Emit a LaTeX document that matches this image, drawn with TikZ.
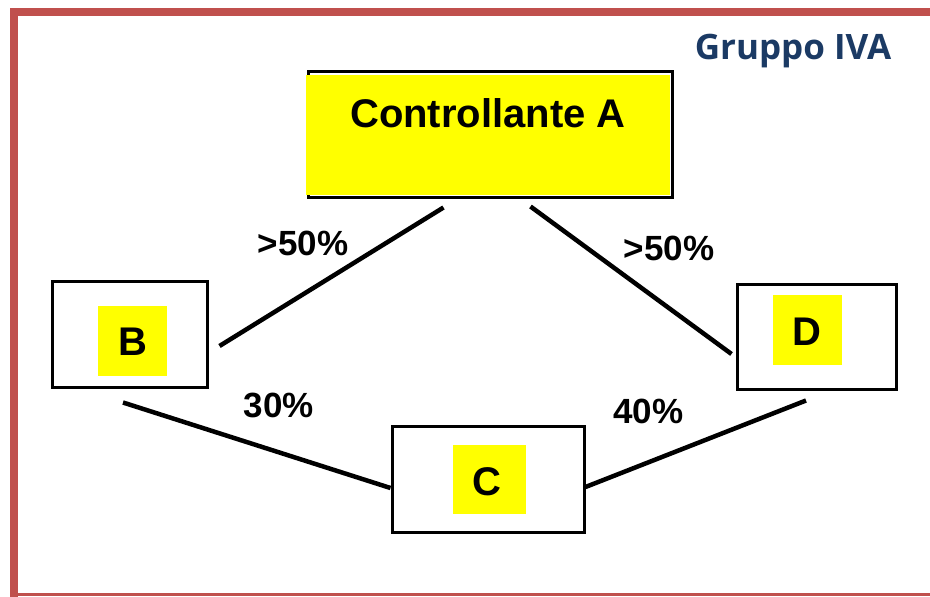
\documentclass[tikz,border=0pt]{standalone}
\usepackage{fontspec}
\setmainfont{Liberation Sans}
\newfontfamily\titlefont{Open Sans}
\definecolor{frame}{HTML}{C0504D}
\definecolor{navy}{HTML}{1B3A64}
\definecolor{yel}{HTML}{FFFF00}
\tikzset{
  entity/.style={draw=black, line width=3pt, fill=white, inner sep=0pt},
  tag/.style={fill=yel, inner sep=0pt, minimum width=70pt, minimum height=70pt},
  big/.style={font=\fontsize{40}{44}\selectfont\bfseries},
  pct/.style={font=\fontsize{35}{38}\selectfont\bfseries, inner sep=0pt, anchor=base},
  link/.style={line width=4.5pt, black},
}
\begin{document}
\begin{tikzpicture}[x=1pt,y=-1pt]
\useasboundingbox (0,0) rectangle (930,597);
% frame
\fill[frame] (10,8) rectangle (930,16);
\fill[frame] (10,8) rectangle (18,597);
\fill[frame] (10,593) rectangle (930,595.5);
% title
\node[font=\titlefont\fontsize{35}{38}\selectfont\bfseries, text=navy, inner sep=0pt, anchor=base] (title) at (793,59) {Gruppo IVA};
% Controllante A
\node[draw=black, line width=3pt, minimum width=364pt, minimum height=126pt, inner sep=0pt] (A) at (490,134) {};
\fill[yel] (306,75) rectangle (670,195);
\node[big, inner sep=0pt, anchor=base] (Atext) at (488,127) {Controllante A};
% B
\node[entity, minimum width=155pt, minimum height=106pt] (B) at (129.5,334) {};
\node[tag, minimum width=69pt] (Btag) at (132.5,341) {};
\node[big, inner sep=0pt, anchor=base] (Btext) at (133,355) {B};
% D
\node[entity, minimum width=159pt, minimum height=105pt] (D) at (816.5,336.5) {};
\node[tag, minimum width=69pt] (Dtag) at (807.5,330) {};
\node[big, inner sep=0pt, anchor=base] (Dtext) at (807,345) {D};
% C
\node[entity, minimum width=192pt, minimum height=106pt] (C) at (488,479) {};
\node[tag, minimum width=73pt, minimum height=69pt] (Ctag) at (489.5,479.5) {};
\node[big, inner sep=0pt, anchor=base] (Ctext) at (487,495) {C};
% connectors
\draw[link] ([xshift=-46.5pt,yshift=-9pt]A.south) -- ([xshift=11pt,yshift=-12pt]B.east);
\draw[link] ([xshift=40.5pt,yshift=-8pt]A.south) -- ([xshift=-4pt,yshift=-17.5pt]D.west);
\draw[link] ([xshift=-6.5pt,yshift=-14pt]B.south) -- ([yshift=-9pt]C.west);
\draw[link] ([yshift=-8pt]C.east) -- ([xshift=-10.5pt,yshift=-10pt]D.south);
% labels
\node[pct] (l1) at (303,255) {>50\%};
\node[pct] (l2) at (669,260) {>50\%};
\node[pct] (l3) at (279,417) {30\%};
\node[pct] (l4) at (648.5,423) {40\%};
\end{tikzpicture}
\end{document}
